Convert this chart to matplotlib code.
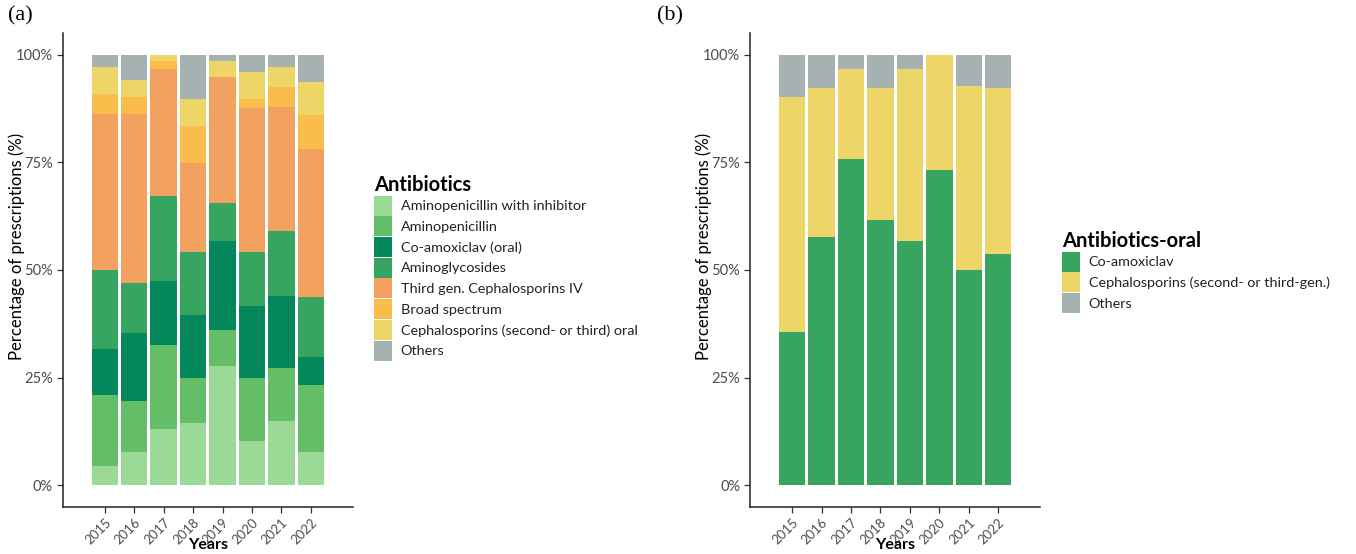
import numpy as np
import matplotlib
matplotlib.use("Agg")
import matplotlib.pyplot as plt
from matplotlib.patches import Patch

# data (% of prescriptions, bottom to top)
years = ["2015", "2016", "2017", "2018", "2019", "2020", "2021", "2022"]

# panel (a) - all antibiotics
amino_inhib = [4.4, 7.8, 13.0, 14.5, 27.6, 10.3, 15.0, 7.6]
aminopen = [16.6, 11.7, 19.6, 10.4, 8.5, 14.6, 12.2, 15.7]
coamox_oral = [10.7, 15.8, 14.9, 14.6, 20.7, 16.7, 16.7, 6.4]
aminoglyc = [18.3, 11.7, 19.7, 14.6, 8.8, 12.5, 15.1, 14.0]
third_gen = [36.2, 39.2, 29.5, 20.8, 29.2, 33.4, 28.9, 34.4]
broad = [4.7, 4.0, 1.7, 8.4, 0.0, 2.1, 4.5, 7.8]
ceph_oral = [6.1, 4.0, 1.6, 6.3, 3.6, 6.3, 4.6, 7.8]
others_a = [3.0, 5.8, 0.0, 10.4, 1.6, 4.1, 3.0, 6.3]

labels_a = ["Aminopenicillin with inhibitor", "Aminopenicillin", "Co-amoxiclav (oral)",
            "Aminoglycosides", "Third gen. Cephalosporins IV", "Broad spectrum",
            "Cephalosporins (second- or third) oral", "Others"]
colors_a = ["#9bd997", "#64bd67", "#04875a", "#37a460", "#f2a160", "#fabd4c", "#edd568", "#a6b2b1"]

# panel (b) - oral antibiotics
coamox = [35.5, 57.6, 75.8, 61.5, 56.6, 73.3, 50.0, 53.7]
ceph_23 = [54.7, 34.7, 20.9, 30.8, 40.1, 26.7, 42.8, 38.6]
others_b = [9.8, 7.7, 3.3, 7.7, 3.3, 0.0, 7.2, 7.7]

labels_b = ["Co-amoxiclav", "Cephalosporins (second- or third-gen.)", "Others"]
colors_b = ["#37a460", "#edd568", "#a6b2b1"]

plt.rcParams['font.family'] = ['Lato', 'DejaVu Sans']

fig = plt.figure(figsize=(13.56, 5.54), dpi=100)
ax1 = fig.add_axes([0.0462, 0.0854, 0.2141, 0.855])
ax2 = fig.add_axes([0.5531, 0.0854, 0.2141, 0.855])


def stacked(ax, series, colors):
    x = np.arange(len(years))
    bottom = np.zeros(len(years))
    for vals, col in zip(series, colors):
        ax.bar(x, vals, bottom=bottom, width=0.9, color=col, edgecolor="none")
        bottom += np.array(vals)


def style(ax):
    ax.set_xlim(-1.43, 8.43)
    ax.set_ylim(-5, 105)
    ax.set_yticks([0, 25, 50, 75, 100])
    ax.set_yticklabels(["0%", "25%", "50%", "75%", "100%"])
    ax.set_xticks(np.arange(len(years)))
    ax.set_xticklabels(years, rotation=45, ha="right", va="top", rotation_mode="anchor")
    for s in ["top", "right"]:
        ax.spines[s].set_visible(False)
    for s in ["left", "bottom"]:
        ax.spines[s].set_linewidth(1.1)
        ax.spines[s].set_color("#222222")
    ax.tick_params(axis="both", length=4, width=0.9, color="#333333",
                   labelcolor="#4d4d4d", labelsize=10.5, pad=3)
    ax.tick_params(axis="x", labelsize=9.5)
    ax.set_ylabel("Percentage of prescriptions (%)", fontsize=12, color="black")
    ax.yaxis.set_label_coords(-0.13, 0.55)
    ax.set_xlabel("Years", fontsize=11.5, fontweight="bold", color="black")
    ax.xaxis.set_label_coords(0.5, -0.066)


stacked(ax1, [amino_inhib, aminopen, coamox_oral, aminoglyc, third_gen, broad, ceph_oral, others_a], colors_a)
stacked(ax2, [coamox, ceph_23, others_b], colors_b)
style(ax1)
style(ax2)


def legend(ax, labels, colors, title, anchor):
    handles = [Patch(facecolor=c, edgecolor="none") for c in colors]
    leg = fig.legend(handles, labels, title=title, loc="upper left", bbox_to_anchor=anchor,
                     bbox_transform=fig.transFigure, frameon=False, fontsize=10.4,
                     handlelength=1.25, handleheight=1.75, labelspacing=0.05,
                     handletextpad=0.6, borderpad=0, borderaxespad=0)
    leg.get_title().set_fontsize(14.5)
    leg.get_title().set_fontweight("bold")
    leg._legend_box.align = "left"
    for t in leg.get_texts():
        t.set_color("#222222")


legend(ax1, labels_a, colors_a, "Antibiotics", (374 / 1356, 1 - 175 / 554))
legend(ax2, labels_b, colors_b, "Antibiotics-oral", (1062 / 1356, 1 - 231 / 554))

fig.text(8 / 1356, 1 - 6 / 554, "(a)", family="Liberation Serif", fontsize=16, va="top", ha="left")
fig.text(657 / 1356, 1 - 6 / 554, "(b)", family="Liberation Serif", fontsize=16, va="top", ha="left")

fig.savefig("out.png", dpi=100)
